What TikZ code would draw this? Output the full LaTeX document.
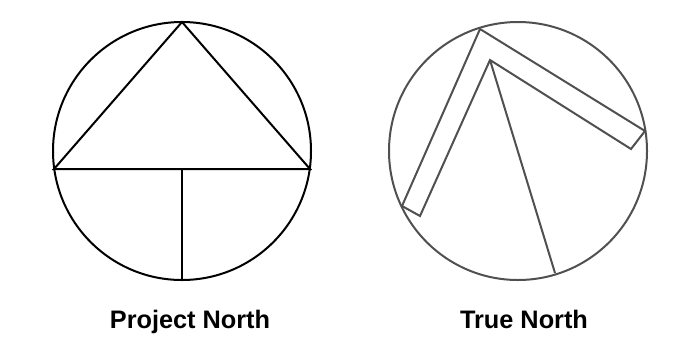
\documentclass[tikz,border=0pt]{standalone}
\usepackage{fontspec}
\setmainfont{Liberation Sans}
\definecolor{gr}{HTML}{505050}
\tikzset{pn/.style={draw=black,line width=2bp,line join=miter},tn/.style={draw=gr,line width=2bp},lab/.style={font=\bfseries\fontsize{25.3bp}{28bp}\selectfont,text=black,inner sep=0pt,anchor=base}}
\begin{document}
\begin{tikzpicture}[x=1bp,y=-1bp]
\useasboundingbox (0,0) rectangle (692,348);
\coordinate (pc) at (182,151);
\coordinate (a) at (182,22);
\coordinate (b) at (54,169);
\coordinate (c) at (310,169);
\coordinate (d) at (182,169);
\coordinate (e) at (182,280);
\draw[pn] (pc) circle (129);
\draw[pn] (a) -- (b) -- (c) -- cycle;
\draw[pn] (d) -- (e);
\coordinate (tc) at (518,151);
\draw[tn] (tc) circle (129);
\coordinate (p1) at (480,29);
\coordinate (p2) at (645,131);
\coordinate (p3) at (631,149);
\coordinate (p4) at (490,60);
\coordinate (p5) at (420,216);
\coordinate (p6) at (402,206);
\coordinate (p7) at (555,273);
\draw[tn] (p6) -- (p1) -- (p2) -- (p3) -- (p4) -- (p5) -- cycle;
\draw[tn] (p4) -- (p7);
\node[lab] (t1) at (190,328) {Project North};
\node[lab] (t2) at (524,328) {True North};
\end{tikzpicture}
\end{document}
